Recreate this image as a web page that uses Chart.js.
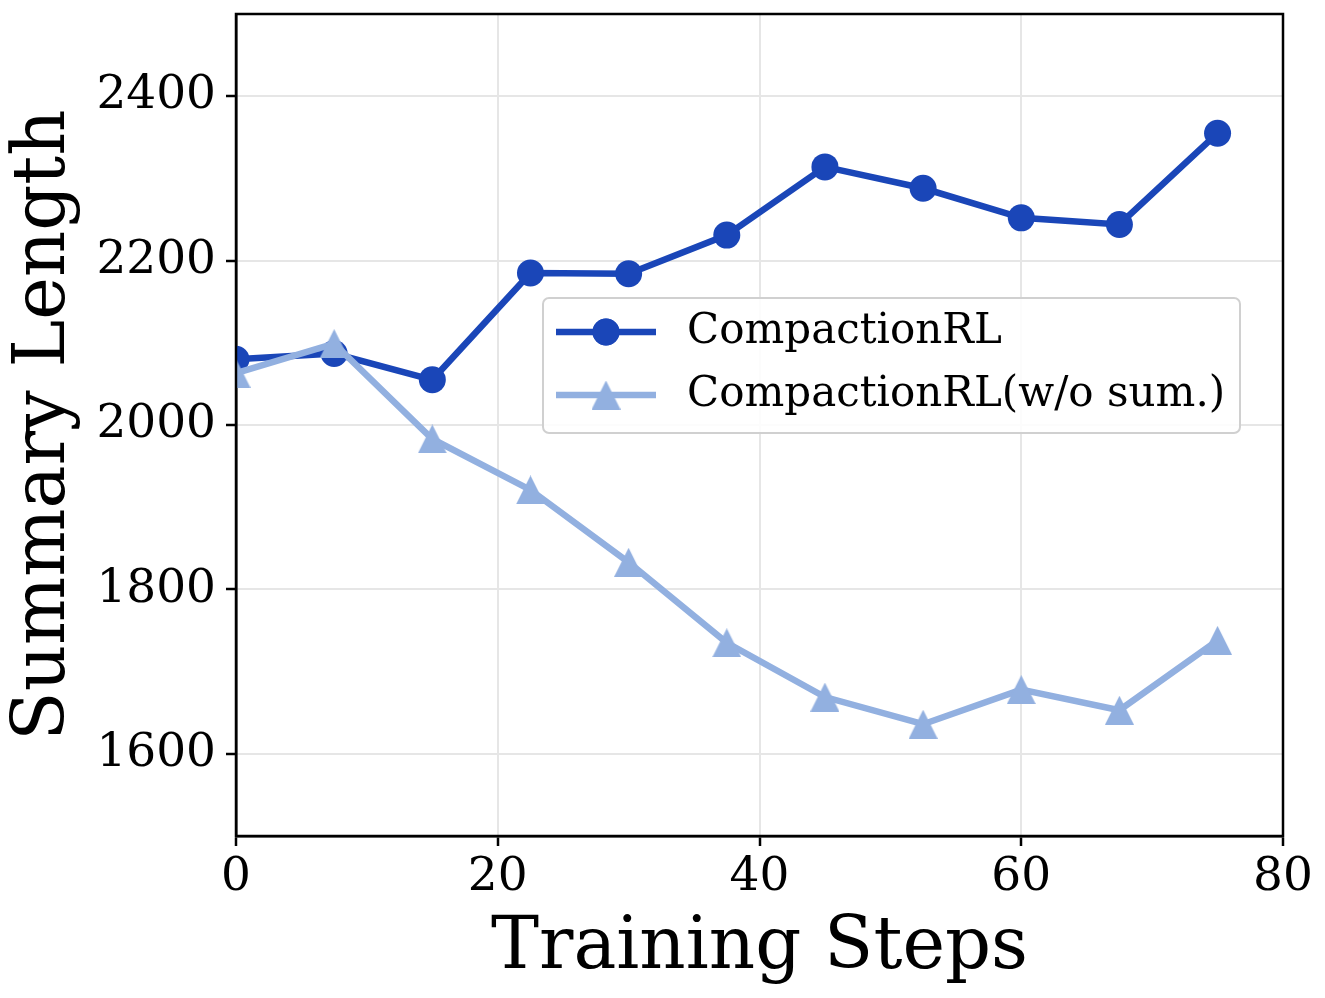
<!DOCTYPE html>
<html>
<head>
<meta charset="utf-8">
<script src="https://cdn.jsdelivr.net/npm/chart.js@4"></script>
<style>
html, body { margin: 0; background: #fff; }
#wrap { width: 1325px; height: 998px; }
</style>
</head>
<body>
<div id="wrap"><canvas id="chart" width="1325" height="998"></canvas></div>
<script>
const trainingSteps = [0, 7.5, 15, 22.5, 30, 37.5, 45, 52.5, 60, 67.5, 75];
const compactionRL = [2080, 2087, 2055, 2185, 2184, 2231, 2314, 2288, 2252, 2244, 2355];
const compactionNoSum = [2063, 2099, 1983, 1921, 1833, 1735, 1669, 1636, 1678, 1653, 1738];
const xTicks = [0, 20, 40, 60, 80];
const yTicks = [1600, 1800, 2000, 2200, 2400];
const seriesLabels = ['CompactionRL', 'CompactionRL(w/o sum.)'];

const FONT = "'DejaVu Serif', 'Liberation Serif', serif";
const DARK = '#1a46b8';
const LIGHT = '#92b0e0';

const toPoints = ys => ys.map((y, i) => ({ x: trainingSteps[i], y }));

// matplotlib style '^' marker: as tall as it is wide, centred on its box
function makeTriangle(size, color) {
    const c = document.createElement('canvas');
    c.width = size;
    c.height = size;
    const g = c.getContext('2d');
    g.fillStyle = color;
    g.beginPath();
    g.moveTo(size / 2, 0);
    g.lineTo(size, size);
    g.lineTo(0, size);
    g.closePath();
    g.fill();
    return c;
}
const triangleMarker = makeTriangle(29, LIGHT);

// black box round the plot area, like matplotlib spines
const framePlugin = {
    id: 'frame',
    afterDatasetsDraw(chart) {
        const { ctx, chartArea: a } = chart;
        ctx.save();
        ctx.strokeStyle = '#000';
        ctx.lineWidth = 2.5;
        ctx.strokeRect(a.left, a.top, a.right - a.left, a.bottom - a.top);
        ctx.restore();
    }
};

// legend sits inside the plot, so draw it by hand
const insideLegend = {
    id: 'insideLegend',
    afterDraw(chart) {
        const ctx = chart.ctx;
        const box = { x: 543, y: 298, w: 697, h: 135 };
        ctx.save();
        ctx.beginPath();
        ctx.roundRect(box.x, box.y, box.w, box.h, 6);
        ctx.fillStyle = 'rgba(255,255,255,0.85)';
        ctx.fill();
        ctx.strokeStyle = '#d0d0d0';
        ctx.lineWidth = 2;
        ctx.stroke();

        const rows = [332, 395];
        chart.data.datasets.forEach((ds, i) => {
            const y = rows[i];
            ctx.strokeStyle = ds.borderColor;
            ctx.lineWidth = ds.borderWidth;
            ctx.beginPath();
            ctx.moveTo(556, y);
            ctx.lineTo(656, y);
            ctx.stroke();
            ctx.fillStyle = ds.backgroundColor;
            Chart.helpers.drawPoint(ctx, {
                pointStyle: ds.pointStyle,
                radius: ds.pointRadius,
                borderWidth: 0
            }, 606, y);
            if (typeof ds.pointStyle === 'string') ctx.fill();
            ctx.fillStyle = '#000';
            ctx.font = `42px ${FONT}`;
            ctx.textBaseline = 'middle';
            ctx.textAlign = 'left';
            ctx.fillText(ds.label, 687, y);
        });
        ctx.restore();
    }
};

new Chart(document.getElementById('chart'), {
    type: 'line',
    data: {
        datasets: [
            {
                label: seriesLabels[0],
                data: toPoints(compactionRL),
                borderColor: DARK,
                backgroundColor: DARK,
                borderWidth: 6.5,
                pointStyle: 'circle',
                pointRadius: 13.5,
                pointBorderWidth: 0,
                order: 1,
                clip: 0
            },
            {
                label: seriesLabels[1],
                data: toPoints(compactionNoSum),
                borderColor: LIGHT,
                backgroundColor: LIGHT,
                borderWidth: 6.5,
                pointStyle: triangleMarker,
                pointRadius: 14,
                pointBorderWidth: 0,
                order: 0,
                clip: 0
            }
        ]
    },
    options: {
        responsive: false,
        animation: false,
        devicePixelRatio: 1,
        layout: { padding: { top: 11, right: 42, left: 0, bottom: 0 } },
        plugins: {
            legend: { display: false },
            tooltip: { enabled: false }
        },
        scales: {
            x: {
                type: 'linear',
                min: 0,
                max: 80,
                afterBuildTicks: s => { s.ticks = xTicks.map(v => ({ value: v })); },
                afterFit: s => { s.height = 162; s.paddingLeft = 0; s.paddingRight = 0; },
                grid: { color: '#e6e6e6', lineWidth: 2, tickColor: '#000', tickLength: 10, tickWidth: 2.5 },
                border: { color: '#000', width: 2.5 },
                ticks: { color: '#000', font: { family: FONT, size: 47 }, padding: 4, maxRotation: 0, callback: v => String(v) },
                title: {
                    display: true,
                    text: 'Training Steps',
                    color: '#000',
                    font: { family: FONT, size: 72, lineHeight: 1.2 },
                    padding: { top: 0, bottom: 6 }
                }
            },
            y: {
                min: 1500,
                max: 2500,
                afterBuildTicks: s => { s.ticks = yTicks.map(v => ({ value: v })); },
                afterFit: s => { s.width = 236; s.paddingTop = 0; s.paddingBottom = 0; },
                grid: { color: '#e6e6e6', lineWidth: 2, tickColor: '#000', tickLength: 10, tickWidth: 2.5 },
                border: { color: '#000', width: 2.5 },
                ticks: { color: '#000', font: { family: FONT, size: 47 }, padding: 10, callback: v => String(v) },
                title: {
                    display: true,
                    text: 'Summary Length',
                    color: '#000',
                    font: { family: FONT, size: 72, lineHeight: 1.2 },
                    padding: { top: 2, bottom: 0 }
                }
            }
        }
    },
    plugins: [framePlugin, insideLegend]
});
</script>
</body>
</html>
